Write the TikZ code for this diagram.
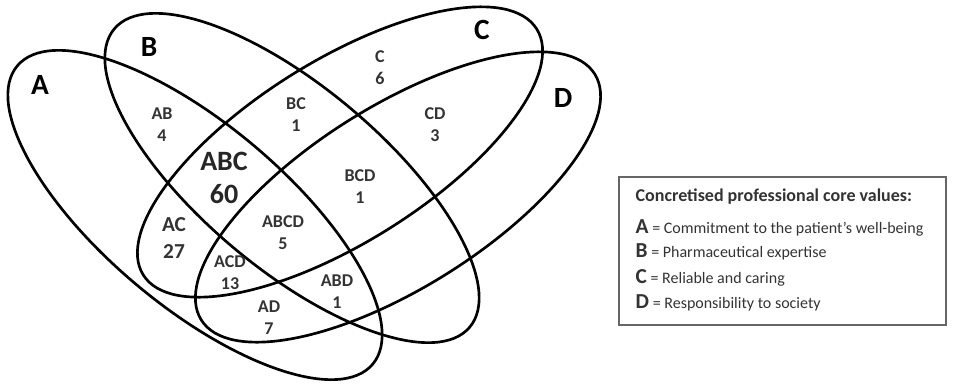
\documentclass[tikz,border=0pt]{standalone}
\usepackage{fontspec}
\setmainfont{Carlito}
\usepackage{tikz}

\begin{document}
\begin{tikzpicture}[x=0.75pt,y=0.75pt,
    set/.style={line width=2pt},
    setname/.style={font=\fontsize{22}{24}\selectfont\bfseries},
    region/.style={align=center,text=black!80,font=\fontsize{13.5}{16.5}\selectfont\bfseries},
    bigregion/.style={align=center,text=black!85,font=\fontsize{21}{25}\selectfont\bfseries},
    legendline/.style={anchor=west,font=\fontsize{12}{14}\selectfont,text=black!80}]
      \useasboundingbox (0,0) rectangle (956,383);

      % the four sets
      \draw[set,rotate around={-40:(195,168)}] (195,168) ellipse (232 and 91);
      \draw[set,rotate around={-40:(292,205)}] (292,205) ellipse (232 and 91);
      \draw[set,rotate around={32:(340,231)}] (340,231) ellipse (232 and 91);
      \draw[set,rotate around={32:(398,186)}] (398,186) ellipse (232 and 91);

      \node[setname] (nameA) at (40,298) {A};
      \node[setname] (nameB) at (149,336) {B};
      \node[setname] (nameC) at (482,353) {C};
      \node[setname] (nameD) at (563,285) {D};

      % counts
      \node[region] (onlyC) at (380,315) {C\\6};
      \node[region] (regBC) at (296,268) {BC\\1};
      \node[region] (regAB) at (162,258) {AB\\4};
      \node[bigregion] (regABC) at (224,205) {ABC\\60};
      \node[region] (regBCD) at (360,196) {BCD\\1};
      \node[region] (regCD) at (435,258) {CD\\3};
      \node[region,font=\fontsize{16}{20}\selectfont\bfseries] (regAC) at (174,145) {AC\\27};
      \node[region] (regABCD) at (283,150) {ABCD\\5};
      \node[region] (regACD) at (230,110) {ACD\\13};
      \node[region] (regABD) at (337,91) {ABD\\1};
      \node[region] (regAD) at (269,65) {AD\\7};

      % legend
      \draw[black!60,line width=1pt] (619,58) rectangle (946,206);
      \node[legendline,font=\fontsize{13.5}{15}\selectfont\bfseries] (keytitle) at (631,186) {Concretised professional core values:};
      \node[legendline] (keyA) at (631,155) {{\fontsize{16}{16}\selectfont\bfseries A} = Commitment to the patient’s well-being};
      \node[legendline] (keyB) at (631,131) {{\fontsize{16}{16}\selectfont\bfseries B} = Pharmaceutical expertise};
      \node[legendline] (keyC) at (631,105) {{\fontsize{16}{16}\selectfont\bfseries C} = Reliable and caring};
      \node[legendline] (keyD) at (631,80) {{\fontsize{16}{16}\selectfont\bfseries D} = Responsibility to society};
\end{tikzpicture}
\end{document}
